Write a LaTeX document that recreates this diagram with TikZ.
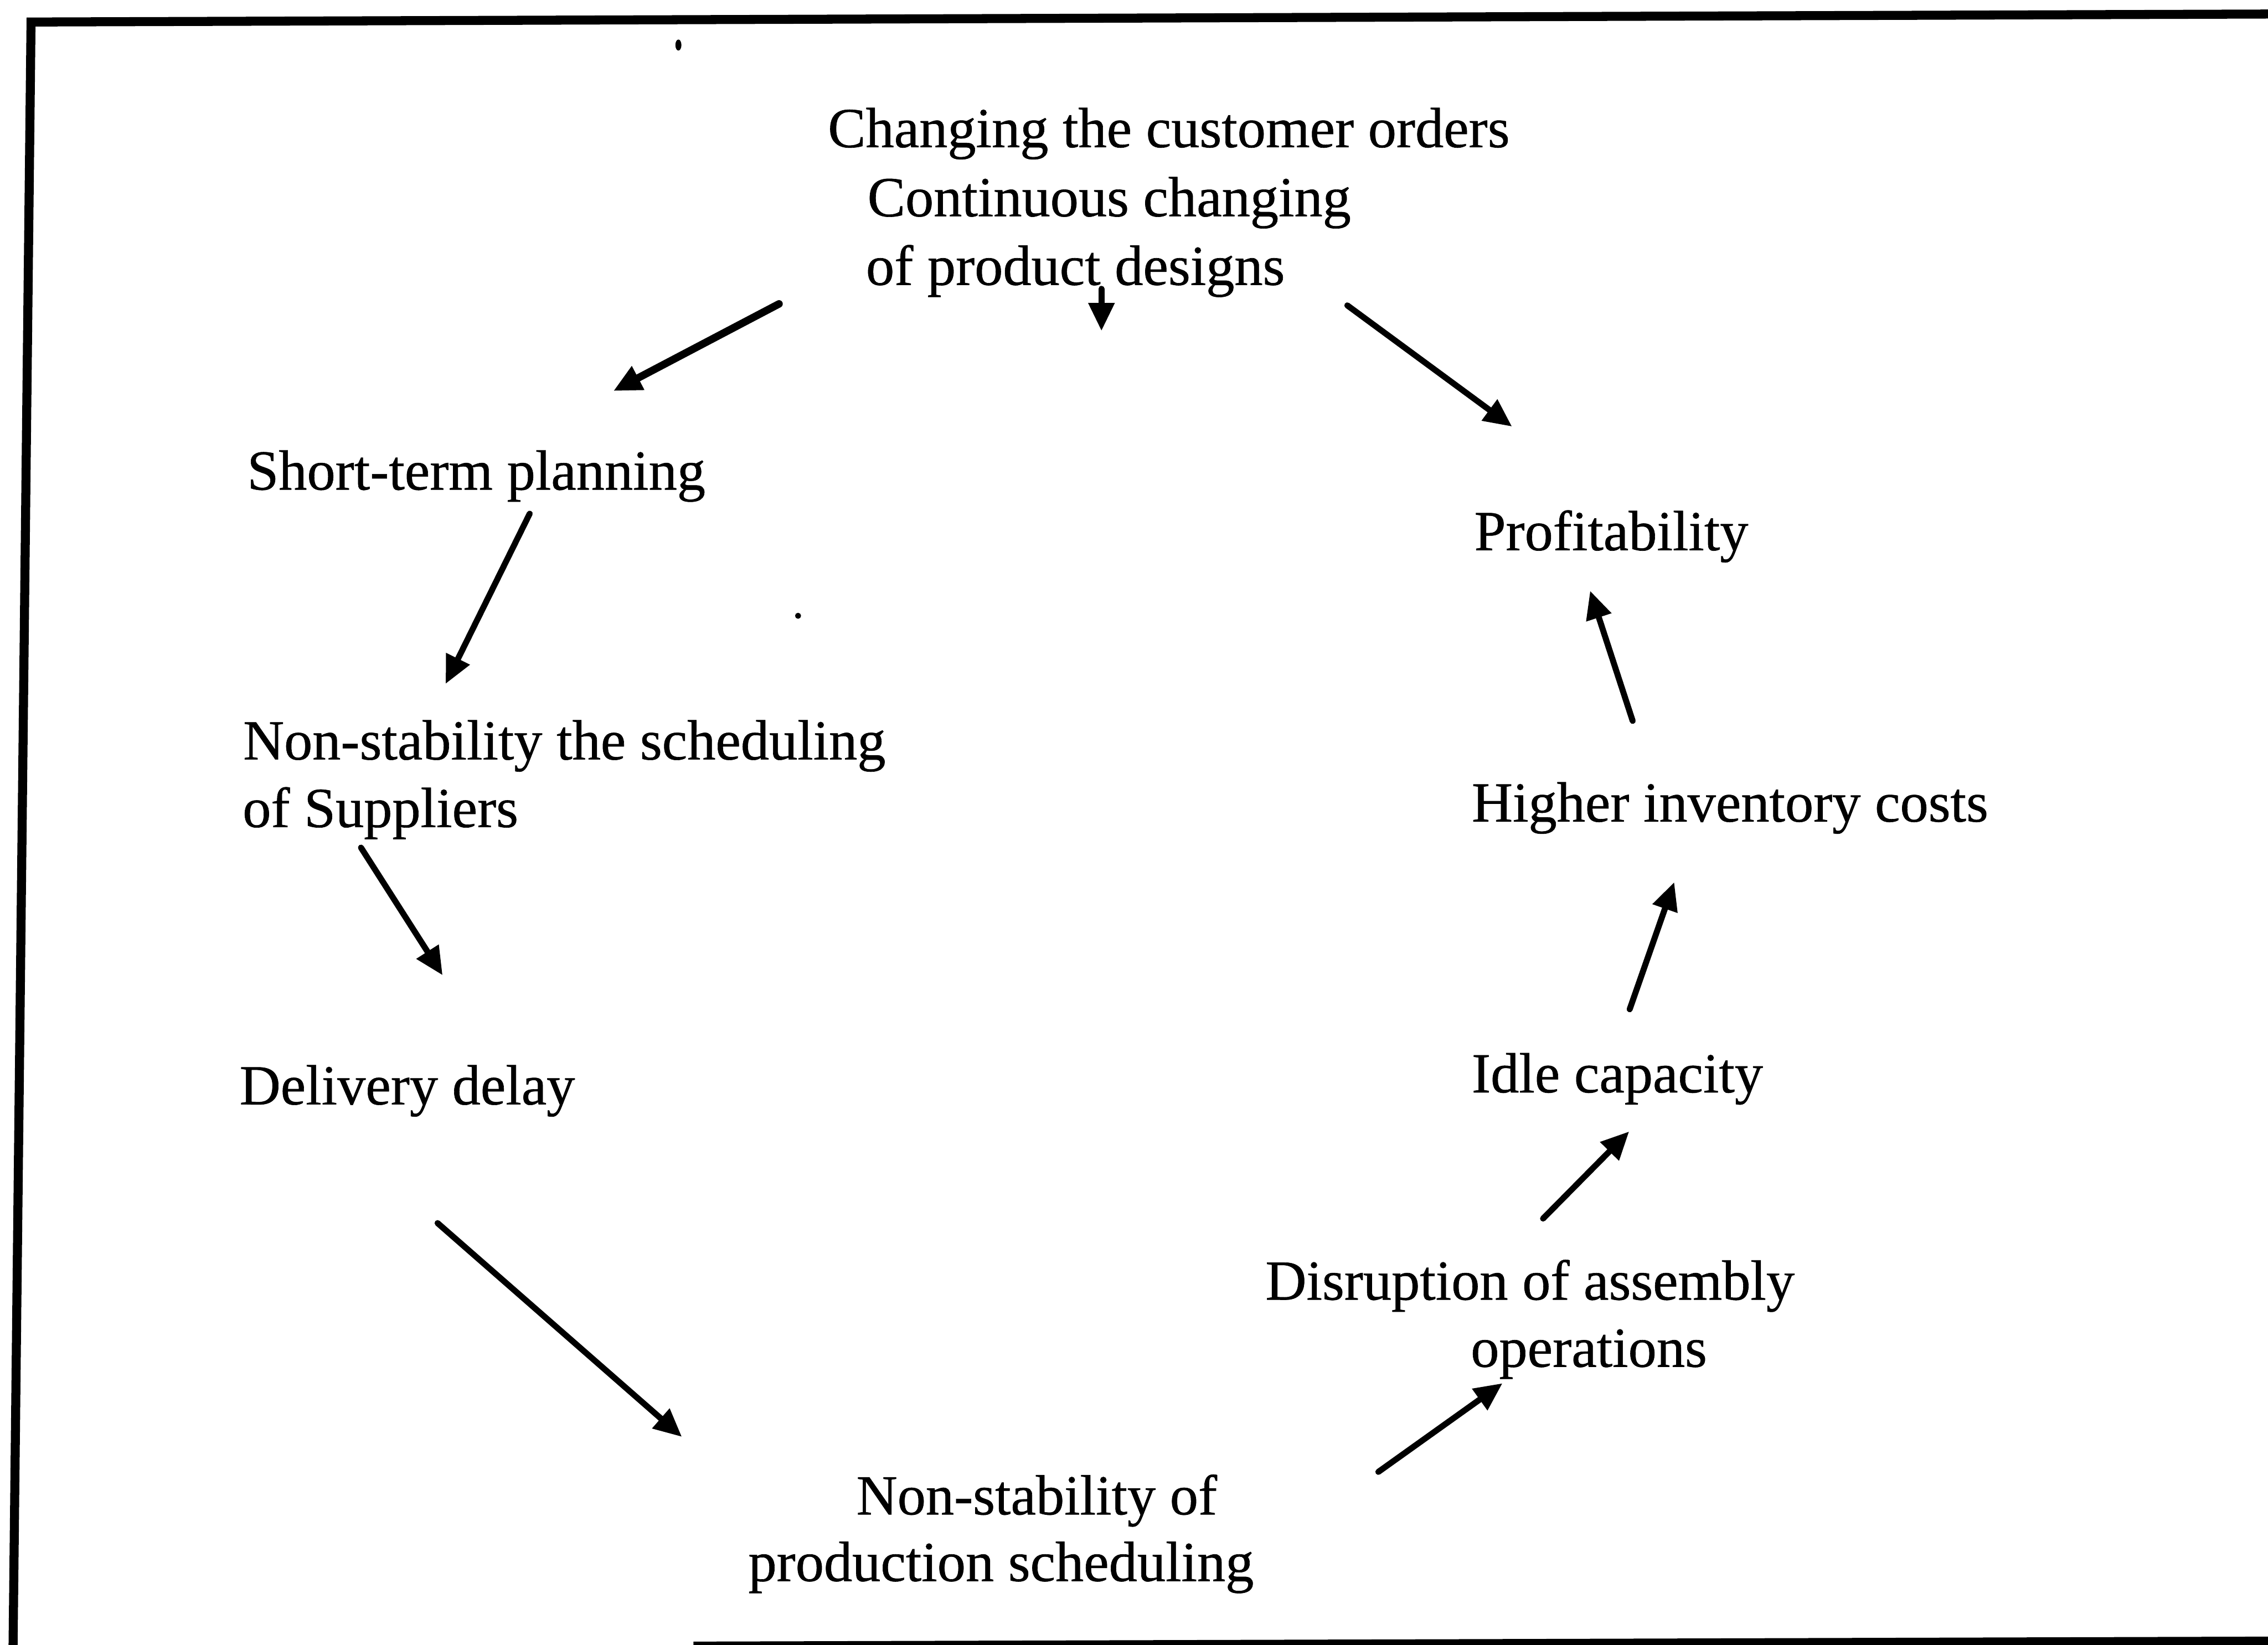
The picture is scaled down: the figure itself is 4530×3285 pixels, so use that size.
\documentclass[tikz,border=0pt]{standalone}
\usepackage{fontspec}
\setmainfont{Liberation Serif}
\newfontfamily\scanfont[FakeBold=0.6]{Liberation Serif}
\usetikzlibrary{arrows.meta}
\begin{document}
\begin{tikzpicture}[x=0.01cm, y=-0.01cm,
  lbl/.style={anchor=base west, inner sep=0pt,
              font=\scanfont\fontsize{32.2pt}{38.7pt}\selectfont},
  arr/.style={line width=0.12cm, line cap=round,
              -{Triangle[length=0.56cm, width=0.5cm]}},
  frameline/.style={line width=0.18cm}]
\useasboundingbox (0,0) rectangle (4530,3285);
\clip (0,0) rectangle (4530,3285);

% frame
\draw[frameline] (26,3295) -- (62,44) -- (4540,28);
\draw[frameline] (1385,3288) -- (4540,3278);

% specks
\fill (1355,90) circle [x radius=6, y radius=11];
\fill (1594,1230) circle [radius=6];

% labels
\node[lbl] (top1) at (1653,294) {Changing the customer orders};
\node[lbl] (top2) at (1732,432) {Continuous changing};
\node[lbl] (top3) at (1729,569) {of product designs};
\node[lbl] (short) at (493,978) {Short-term planning};
\node[lbl] (supp1) at (485,1517) {Non-stability the scheduling};
\node[lbl] (supp2) at (484,1652) {of Suppliers};
\node[lbl] (deliv) at (478,2206) {Delivery delay};
\node[lbl] (prod1) at (1710,3025) {Non-stability of};
\node[lbl] (prod2) at (1494,3158) {production scheduling};
\node[lbl] (disr1) at (2527,2596) {Disruption of assembly};
\node[lbl] (disr2) at (2937,2730) {operations};
\node[lbl] (idle) at (2939,2182) {Idle capacity};
\node[lbl] (inv) at (2939,1641) {Higher inventory costs};
\node[lbl] (profit) at (2944,1099) {Profitability};

% arrow end points
\coordinate (a1s) at (1556,607);  \coordinate (a1e) at (1225,781);
\coordinate (a2s) at (2200,577);  \coordinate (a2e) at (2200,661);
\coordinate (a3s) at (2691,610);  \coordinate (a3e) at (3020,852);
\coordinate (a4s) at (1058,1026); \coordinate (a4e) at (890,1366);
\coordinate (a5s) at (721,1693);  \coordinate (a5e) at (884,1948);
\coordinate (a6s) at (874,2443);  \coordinate (a6e) at (1362,2870);
\coordinate (a7s) at (2753,2940); \coordinate (a7e) at (3001,2763);
\coordinate (a8s) at (3082,2434); \coordinate (a8e) at (3254,2260);
\coordinate (a9s) at (3255,2016); \coordinate (a9e) at (3344,1762);
\coordinate (a10s) at (3261,1440); \coordinate (a10e) at (3176,1180);

% arrows
\draw[arr, line width=0.15cm] (a1s) -- (a1e);
\draw[arr] (a2s) -- (a2e);
\draw[arr] (a3s) -- (a3e);
\draw[arr] (a4s) -- (a4e);
\draw[arr] (a5s) -- (a5e);
\draw[arr] (a6s) -- (a6e);
\draw[arr] (a7s) -- (a7e);
\draw[arr] (a8s) -- (a8e);
\draw[arr] (a9s) -- (a9e);
\draw[arr] (a10s) -- (a10e);
\end{tikzpicture}
\end{document}
